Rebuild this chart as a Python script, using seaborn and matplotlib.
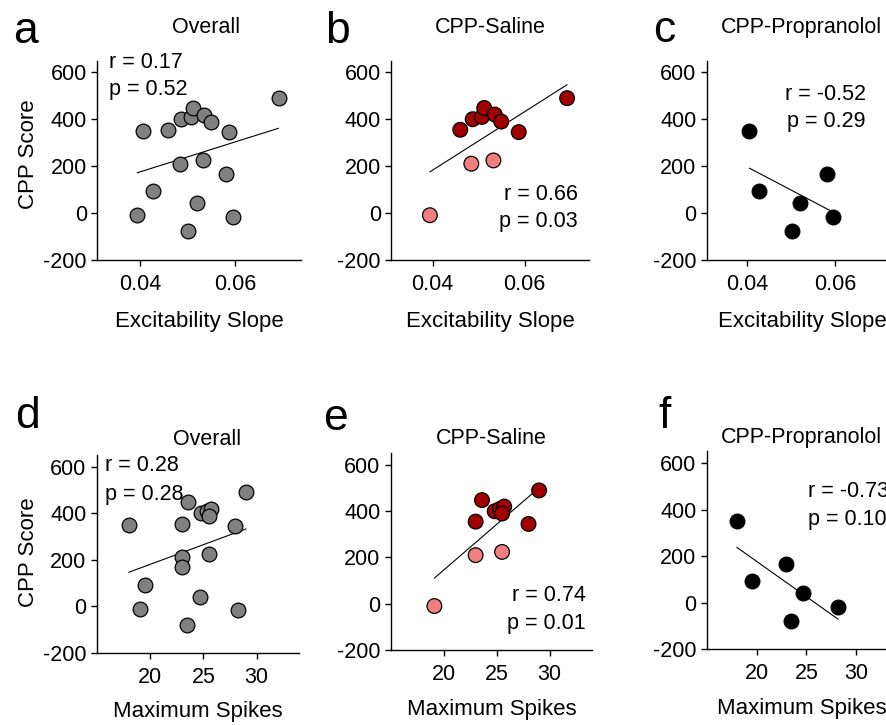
import matplotlib
matplotlib.use("Agg")
import matplotlib.pyplot as plt
import seaborn as sns
import pandas as pd

# ---------------- data ----------------
saline_slope = [0.0460, 0.0487, 0.0507, 0.0512, 0.0535, 0.0549, 0.0587, 0.0692, 0.0484, 0.0532, 0.0394]
saline_spikes = [23.0, 24.8, 25.3, 23.6, 25.7, 25.5, 28.0, 29.0, 23.0, 25.5, 19.1]
saline_cpp = [355, 400, 410, 448, 420, 390, 345, 490, 210, 224, -10]
saline_shade = ["dark", "dark", "dark", "dark", "dark", "dark", "dark", "dark", "light", "light", "light"]

prop_slope = [0.0406, 0.0427, 0.0582, 0.0521, 0.0596, 0.0502]
prop_spikes = [18.0, 19.5, 23.0, 24.7, 28.2, 23.5]
prop_cpp = [350, 92, 167, 41, -18, -79]

panel_letters = ["a", "b", "c", "d", "e", "f"]
panel_titles = ["Overall", "CPP-Saline", "CPP-Propranolol", "Overall", "CPP-Saline", "CPP-Propranolol"]
r_labels = ["r = 0.17", "r = 0.66", "r = -0.52", "r = 0.28", "r = 0.74", "r = -0.73"]
p_labels = ["p = 0.52", "p = 0.03", "p = 0.29", "p = 0.28", "p = 0.01", "p = 0.10"]
y_ticks = [-200, 0, 200, 400, 600]
slope_ticks = [0.04, 0.06]
slope_ticklabels = ["0.04", "0.06"]
spike_ticks = [20, 25, 30]

saline_df = pd.DataFrame({"slope": saline_slope, "spikes": saline_spikes,
                          "cpp": saline_cpp, "shade": saline_shade})
prop_df = pd.DataFrame({"slope": prop_slope, "spikes": prop_spikes, "cpp": prop_cpp})
overall_df = pd.concat([saline_df[["slope", "spikes", "cpp"]], prop_df], ignore_index=True)

# ---------------- style ----------------
sns.set_style("ticks")
plt.rcParams['font.family'] = ['Liberation Sans', 'DejaVu Sans']
plt.rcParams['axes.unicode_minus'] = False
plt.rcParams['axes.linewidth'] = 1.0
plt.rcParams['text.color'] = 'black'
plt.rcParams['axes.labelcolor'] = 'black'
plt.rcParams['xtick.color'] = 'black'
plt.rcParams['ytick.color'] = 'black'
plt.rcParams['axes.edgecolor'] = 'black'

W, H = 887, 725
fig = plt.figure(figsize=(W / 100, H / 100), dpi=100)


def add_ax(left, bottom, width, height):
    return fig.add_axes([left / W, 1 - bottom / H, width / W, height / H])


def ftext(x, y, s, **kw):
    fig.text(x / W, 1 - y / H, s, va="baseline", color="black", **kw)


FS = 15.5
GRAY = "#808080"
DARK = "#a00000"
LIGHT = "#f08080"

# layout: (left, bottom, width, height) in pixels
layout = [
    (97.3, 259.7, 204.0, 199.0),
    (391.2, 259.7, 198.0, 199.0),
    (707.0, 259.7, 190.0, 199.0),
    (96.7, 652.7, 202.7, 197.6),
    (391.0, 650.0, 201.0, 196.6),
    (707.0, 649.3, 188.7, 198.0),
]
letter_pos = [(13, 43), (325, 43), (653, 42), (15, 428), (323, 430), (658, 428)]
title_pos = [(206, 33), (490, 33), (801.7, 33), (206.7, 445), (491.7, 443.5), (801.7, 443)]
# (x, r baseline, p baseline, align)
stat_pos = [(109, 68, 95, "left"), (578, 200, 227, "right"), (866, 100, 127.5, "right"),
            (105, 471, 500, "left"), (585.5, 601, 629, "right"), (808.5, 497, 525, "left")]

datasets = [overall_df, saline_df, prop_df, overall_df, saline_df, prop_df]
kinds = ["overall", "saline", "prop", "overall", "saline", "prop"]

for i in range(6):
    ax = add_ax(*layout[i])
    df = datasets[i]
    xcol = "slope" if i < 3 else "spikes"
    sns.regplot(data=df, x=xcol, y="cpp", scatter=False, ci=None, color="black",
                line_kws={"lw": 0.8}, ax=ax)
    if kinds[i] == "overall":
        sns.scatterplot(data=df, x=xcol, y="cpp", color=GRAY, edgecolor="black",
                        linewidth=0.9, s=112, ax=ax, legend=False, zorder=3)
    elif kinds[i] == "saline":
        sns.scatterplot(data=df, x=xcol, y="cpp", hue="shade",
                        palette={"dark": DARK, "light": LIGHT}, edgecolor="black",
                        linewidth=0.9, s=112, ax=ax, legend=False, zorder=3)
    else:
        sns.scatterplot(data=df, x=xcol, y="cpp", color="black", edgecolor="black",
                        linewidth=0.9, s=112, ax=ax, legend=False, zorder=3)

    ax.set_ylim(-200, 650)
    ax.set_yticks(y_ticks)
    if i < 3:
        ax.set_xlim(0.031, 0.074)
        ax.set_xticks(slope_ticks)
        ax.set_xticklabels(slope_ticklabels)
        ax.set_xlabel("Excitability Slope", fontsize=FS + 0.5, labelpad=12)
    else:
        ax.set_xlim(15, 34)
        ax.set_xticks(spike_ticks)
        ax.set_xlabel("Maximum Spikes", fontsize=FS + 0.5, labelpad=10)
    if i in (0, 3):
        ax.set_ylabel("CPP Score", fontsize=FS + 0.5)
        ax.yaxis.set_label_coords(-0.285, 0.53 if i == 0 else 0.51)
    else:
        ax.set_ylabel("")
    sns.despine(ax=ax)
    ax.tick_params(axis="both", direction="out", length=4, width=1.0,
                   labelsize=FS, colors="black")
    ax.tick_params(axis="x", pad=6)
    ax.tick_params(axis="y", pad=3.5)
    for sp in ax.spines.values():
        sp.set_color("black")

    lx, ly = letter_pos[i]
    ftext(lx, ly, panel_letters[i], fontsize=32, ha="left")
    tx, ty = title_pos[i]
    ftext(tx, ty, panel_titles[i], fontsize=FS, ha="center")
    sx, ry, py, al = stat_pos[i]
    ftext(sx, ry, r_labels[i], fontsize=FS, ha=al)
    ftext(sx, py, p_labels[i], fontsize=FS, ha=al)

fig.savefig("out.png", dpi=100)
